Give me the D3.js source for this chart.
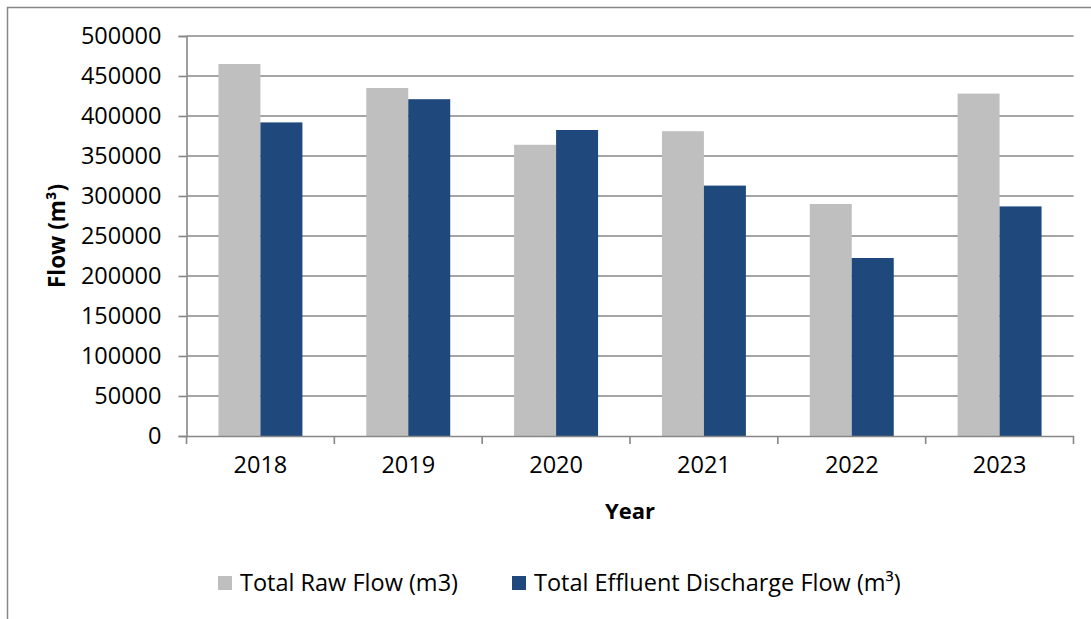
<!DOCTYPE html>
<html>
<head>
<meta charset="utf-8">
<script src="https://cdn.jsdelivr.net/npm/d3@7"></script>
<style>
  html, body { margin: 0; padding: 0; background: #fff; }
  svg { display: block; }
  text { font-family: "Open Sans", "Noto Sans", sans-serif; fill: #000; }
</style>
</head>
<body>
<svg id="chart" width="1091" height="619"></svg>
<script>
const years = ["2018", "2019", "2020", "2021", "2022", "2023"];
const rawFlow = [465000, 435000, 364000, 381000, 290000, 428000];
const effluentFlow = [392000, 421000, 382500, 313000, 222500, 287000];
const seriesNames = ["Total Raw Flow (m3)", "Total Effluent Discharge Flow (m³)"];
const seriesColors = ["#BFBFBF", "#1F497D"];
const yTicks = [0, 50000, 100000, 150000, 200000, 250000, 300000, 350000, 400000, 450000, 500000];

const svg = d3.select("#chart");
const W = 1091, H = 619;
const plot = { left: 186.5, right: 1073.5, top: 36, bottom: 436 };

// outer border
svg.append("rect").attr("x", 7.5).attr("y", 7.5).attr("width", W).attr("height", H)
  .attr("fill", "#fff").attr("stroke", "#878787").attr("stroke-width", 1.5);

const x0 = d3.scaleBand().domain(years).range([plot.left, plot.right]).padding(0);
const outer = x0.bandwidth() * 0.216;
const x1 = d3.scaleBand().domain(seriesNames).range([outer, x0.bandwidth() - outer]).padding(0);
const y = d3.scaleLinear().domain([0, 500000]).range([plot.bottom, plot.top]);

// gridlines
svg.append("g").selectAll("line").data(yTicks.filter(d => d > 0)).join("line")
  .attr("x1", plot.left).attr("x2", plot.right)
  .attr("y1", d => y(d)).attr("y2", d => y(d))
  .attr("stroke", "#878787").attr("stroke-width", 1.6);

// y axis
const yAxis = d3.axisLeft(y).tickValues(yTicks).tickSize(8).tickPadding(17).tickFormat(d3.format("d"));
const gy = svg.append("g").attr("transform", `translate(${plot.left},0)`).call(yAxis);
gy.select(".domain").attr("stroke", "#878787").attr("stroke-width", 1.6);
gy.selectAll(".tick line").attr("stroke", "#878787").attr("stroke-width", 1.6);
gy.selectAll(".tick text").style("font-size", "23.5px").style("font-family", "'Open Sans', sans-serif").attr("fill", "#000");

// bars
const rows = years.map((yr, i) => ({ year: yr, values: [rawFlow[i], effluentFlow[i]] }));
const groups = svg.append("g").selectAll("g").data(rows).join("g")
  .attr("transform", d => `translate(${x0(d.year)},0)`);
groups.selectAll("rect").data(d => d.values.map((v, k) => ({ v, k }))).join("rect")
  .attr("x", d => x1(seriesNames[d.k]))
  .attr("width", x1.bandwidth())
  .attr("y", d => y(d.v))
  .attr("height", d => y(0) - y(d.v))
  .attr("fill", d => seriesColors[d.k]);

// x axis
const xAxis = d3.axisBottom(x0).tickSize(0).tickPadding(20);
const gx = svg.append("g").attr("transform", `translate(0,${plot.bottom})`).call(xAxis);
gx.select(".domain").attr("stroke", "#878787").attr("stroke-width", 1.6);
gx.selectAll(".tick text").style("font-size", "23.5px").style("font-family", "'Open Sans', sans-serif").attr("fill", "#000");
// category boundary ticks
const bounds = years.map(yr => x0(yr)).concat([plot.right]);
svg.append("g").selectAll("line").data(bounds).join("line")
  .attr("x1", d => d).attr("x2", d => d)
  .attr("y1", plot.bottom).attr("y2", plot.bottom + 8)
  .attr("stroke", "#878787").attr("stroke-width", 1.6);

// axis titles
svg.append("text").attr("x", (plot.left + plot.right) / 2).attr("y", 519)
  .attr("text-anchor", "middle").style("font-size", "22px").style("font-weight", "bold").text("Year");
svg.append("text").attr("transform", `translate(65,${(plot.top + plot.bottom) / 2}) rotate(-90)`)
  .attr("text-anchor", "middle").style("font-size", "22.5px").style("font-weight", "bold").text("Flow (m³)");

// legend
const legendItems = [{ x: 218, k: 0 }, { x: 512, k: 1 }];
const lg = svg.append("g").selectAll("g").data(legendItems).join("g")
  .attr("transform", d => `translate(${d.x},576)`);
lg.append("rect").attr("width", 14).attr("height", 14).attr("fill", d => seriesColors[d.k]);
lg.append("text").attr("x", 22).attr("y", 7).attr("dy", "0.35em")
  .style("font-size", "23.5px").text(d => seriesNames[d.k]);
</script>
</body>
</html>
